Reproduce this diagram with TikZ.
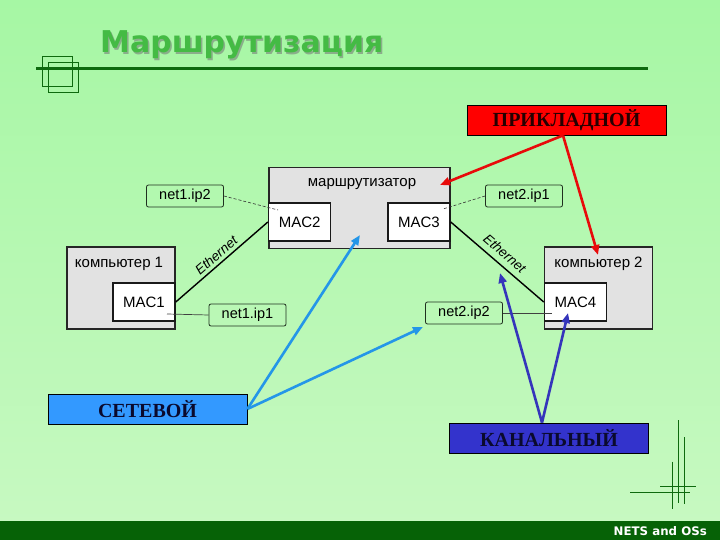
\documentclass[tikz,border=0pt]{standalone}
\usepackage{fontspec}
\setmainfont{Liberation Serif}
\setsansfont{Liberation Sans}
\newfontfamily\headfont{DejaVu Sans}
\usepackage{tikz}
\usetikzlibrary{arrows.meta,positioning,calc}
\definecolor{rtbgtop}{HTML}{A6F7A4}
\definecolor{rtbgbot}{HTML}{C8F9C2}
\definecolor{rtdark}{HTML}{0E6A0E}
\definecolor{rtbar}{HTML}{066206}
\definecolor{rttitle}{HTML}{44BB44}
\definecolor{rtshade}{HTML}{8AAE8A}
\definecolor{rtgray}{HTML}{E2E2E2}
\definecolor{rtipedge}{HTML}{1F2F1F}
\definecolor{rtred}{HTML}{E80A0A}
\definecolor{rtsky}{HTML}{2496E8}
\definecolor{rtnavy}{HTML}{3535BB}
\definecolor{rtappfill}{HTML}{FF0000}
\definecolor{rtnetfill}{HTML}{3399FF}
\definecolor{rtlinkfill}{HTML}{3333CC}
\definecolor{rtink}{HTML}{0A0A2E}

\tikzset{
  graybox/.style={draw=black!85,line width=1.5pt,fill=rtgray,inner sep=0pt},
  macbox/.style={draw=black!90,line width=1.5pt,fill=white,minimum width=62pt,minimum height=38pt,inner sep=0pt,font=\sffamily\fontsize{15}{17}\selectfont},
  ipbox/.style={draw=rtipedge,line width=0.8pt,rounded corners=2pt,minimum width=77pt,minimum height=22pt,inner sep=0pt,font=\sffamily\fontsize{14.5}{16}\selectfont},
  boxlbl/.style={font=\sffamily\fontsize{15}{17}\selectfont,inner sep=0pt},
  layerbox/.style={draw=black,line width=0.8pt,minimum width=199pt,minimum height=30pt,inner sep=0pt,font=\bfseries\fontsize{20}{22}\selectfont},
  ethline/.style={line width=1.4pt},
  tieline/.style={black!80,line width=0.6pt,dash pattern=on 3pt off 2pt},
  plainline/.style={black!75,line width=0.7pt},
  deco/.style={rtdark,line width=1pt}
}

\begin{document}
\begin{tikzpicture}[x=1pt,y=-1pt,>={Triangle[length=10pt,width=8pt]}]
  \useasboundingbox (0,0) rectangle (720,540);
  \fill[top color=rtbgtop,bottom color=rtbgbot] (0,0) rectangle (720,540);

  % title
  \node[anchor=base west,inner sep=0pt,text=rtshade,font=\headfont\bfseries\fontsize{30}{32}\selectfont] (titleshadow) at (101.5,54.5) {Маршрутизация};
  \node[anchor=base west,inner sep=0pt,text=rttitle,font=\headfont\bfseries\fontsize{30}{32}\selectfont] (title) at (100,53) {Маршрутизация};
  \draw[rtdark,line width=3pt] (36,69) -- (648,69);
  \draw[deco] (42,57) rectangle (72,87);
  \draw[deco] (48.6,63) rectangle (78.4,93);

  % hosts and router
  \node[graybox,minimum width=108pt,minimum height=82pt,label={[boxlbl,anchor=base,yshift=-21pt,xshift=-2pt]north:компьютер 1}] (pc1) at (121,288) {};
  \node[macbox] (mac1) at (144,302) {MAC1};
  \node[graybox,minimum width=181pt,minimum height=81pt,label={[boxlbl,anchor=base,yshift=-20pt,xshift=2.5pt]north:маршрутизатор}] (router) at (359.5,208) {};
  \node[macbox] (mac2) at (299.6,222) {MAC2};
  \node[macbox] (mac3) at (419,222) {MAC3};
  \node[graybox,minimum width=108pt,minimum height=82pt,label={[boxlbl,anchor=base,yshift=-21pt]north:компьютер 2}] (pc2) at (598.5,288) {};
  \node[macbox] (mac4) at (575.5,302) {MAC4};

  % addresses
  \node[ipbox] (ip12) at (185,196) {net1.ip2};
  \node[ipbox] (ip11) at (247.5,315) {net1.ip1};
  \node[ipbox] (ip21) at (524,196) {net2.ip1};
  \node[ipbox] (ip22) at (464,313) {net2.ip2};
  \coordinate (in2) at (278,210);
  \coordinate (in3) at (443,209);
  \coordinate (in1) at (167,314);
  \coordinate (in4) at (552,313);
  \draw[tieline] (ip12.east) -- (in2);
  \draw[tieline] (ip21.west) -- (in3);
  \draw[plainline] (in1) -- (ip11.west);
  \draw[plainline] (ip22.east) -- (in4);

  % links
  \draw[ethline] (mac1.east) -- (mac2.west) node[midway,sloped,above,inner sep=3pt,font=\sffamily\itshape\fontsize{13.5}{15}\selectfont]{Ethernet};
  \draw[ethline] (mac3.east) -- (mac4.west) node[midway,sloped,above,inner sep=6pt,font=\sffamily\itshape\fontsize{13.5}{15}\selectfont]{Ethernet};

  % layers
  \node[layerbox,fill=rtappfill,text=black!85!red] (app) at (566.5,120) {ПРИКЛАДНОЙ};
  \node[layerbox,fill=rtnetfill,text=rtink] (netw) at (147.5,409) {СЕТЕВОЙ};
  \node[layerbox,fill=rtlinkfill,text=rtink] (link) at (549,438) {КАНАЛЬНЫЙ};
  \coordinate (appfoot) at ([xshift=-3.5pt]app.south);
  \coordinate (linktop) at ([xshift=-7pt]link.north);
  \coordinate (apptip1) at (440,185);
  \coordinate (apptip2) at (598,255);
  \coordinate (nettip1) at (360,235);
  \coordinate (nettip2) at (423,327);
  \coordinate (linktip1) at (500,273);
  \coordinate (linktip2) at (568,313);
  \draw[->,rtred,line width=2.6pt] (appfoot) -- (apptip1);
  \draw[->,rtred,line width=2.6pt] (appfoot) -- (apptip2);
  \draw[->,rtsky,line width=2.6pt] (netw.east) -- (nettip1);
  \draw[->,rtsky,line width=2.6pt] (netw.east) -- (nettip2);
  \draw[->,rtnavy,line width=2.6pt] (linktop) -- (linktip1);
  \draw[->,rtnavy,line width=2.6pt] (linktop) -- (linktip2);

  % corner marks and footer
  \draw[deco] (678.7,420) -- (678.7,503.3);
  \draw[deco] (684.3,437.3) -- (684.3,504.3);
  \draw[deco] (672.3,461.7) -- (672.3,509.3);
  \draw[deco] (660,486) -- (696,486);
  \draw[deco] (630,492) -- (690,492);
  \fill[rtbar] (0,521) rectangle (720,540);
  \node[anchor=base east,inner sep=0pt,text=white,font=\headfont\bfseries\fontsize{11.8}{13}\selectfont] (footer) at (707,535) {NETS and OSs};
\end{tikzpicture}
\end{document}
